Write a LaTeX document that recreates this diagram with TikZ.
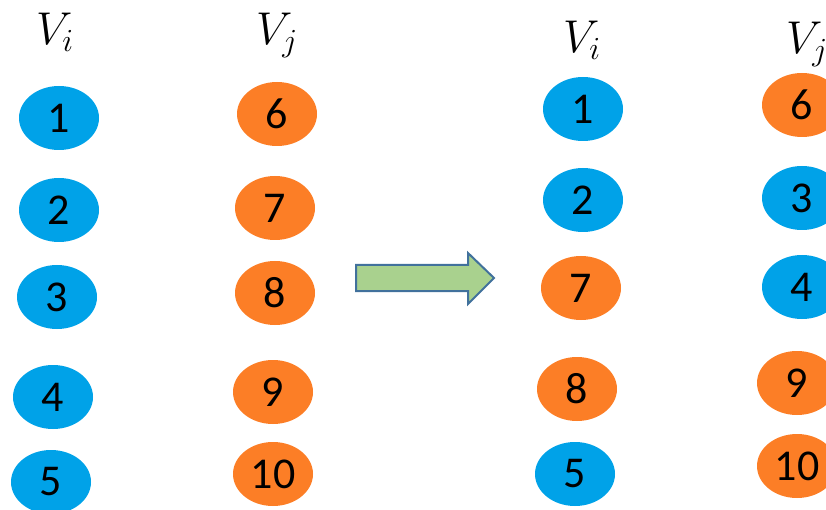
\RequirePackage{fix-cm}
\documentclass[tikz,border=0pt]{standalone}
\usepackage{fontspec}
\newfontfamily\numfont{Carlito}
\usetikzlibrary{shapes.geometric}
\definecolor{vblue}{HTML}{00A2E8}
\definecolor{vorange}{HTML}{FC7E26}
\definecolor{arrowfill}{HTML}{A9D18E}
\definecolor{arrowline}{HTML}{41719C}
\tikzset{
  vertex/.style={ellipse, minimum width=80pt, minimum height=64pt, inner sep=0pt,
    font=\numfont\fontsize{44}{50}\selectfont, text=black},
  bv/.style={vertex, fill=vblue},
  ov/.style={vertex, fill=vorange},
  setlabel/.style={anchor=base west, inner sep=0pt, font=\fontsize{46}{52}\selectfont},
  movearrow/.style={fill=arrowfill, draw=arrowline, line width=2pt, line join=miter}
}
\begin{document}
\begin{tikzpicture}[x=1pt, y=-1pt]
\useasboundingbox (0,0) rectangle (826,510);
\clip (0,0) rectangle (826,510);

% set labels
\node[setlabel] (li) at (36,45) {$V_i$};
\node[setlabel] (lj) at (256,45) {$V_j$};
\node[setlabel] (ri) at (563,53) {$V_i$};
\node[setlabel] (rj) at (786,54) {$V_j$};

% partition before the swap
\node[bv] (a1) at (59,118) {1};
\node[bv] (a2) at (59,210) {2};
\node[bv] (a3) at (57,297) {3};
\node[bv] (a4) at (53,397) {4};
\node[bv] (a5) at (51,482) {5};

\node[ov] (a6) at (277,114) {6};
\node[ov] (a7) at (275,208) {7};
\node[ov] (a8) at (275,293) {8};
\node[ov] (a9) at (273,392) {9};
\node[ov] (a10) at (273,474) {10};

% block arrow
\draw[movearrow] (356,265) -- (468,265) -- (468,253) -- (494,278)
  -- (468,304) -- (468,291) -- (356,291) -- cycle;

% partition after the swap
\node[bv] (b1) at (583,109) {1};
\node[bv] (b2) at (583,200) {2};
\node[ov] (b7) at (581,288) {7};
\node[ov] (b8) at (577,389) {8};
\node[bv] (b5) at (575,474) {5};

\node[ov] (b6) at (802,105) {6};
\node[bv] (b3) at (802,198) {3};
\node[bv] (b4) at (802,287) {4};
\node[ov] (b9) at (797,383) {9};
\node[ov] (b10) at (797,466) {10};
\end{tikzpicture}
\end{document}
